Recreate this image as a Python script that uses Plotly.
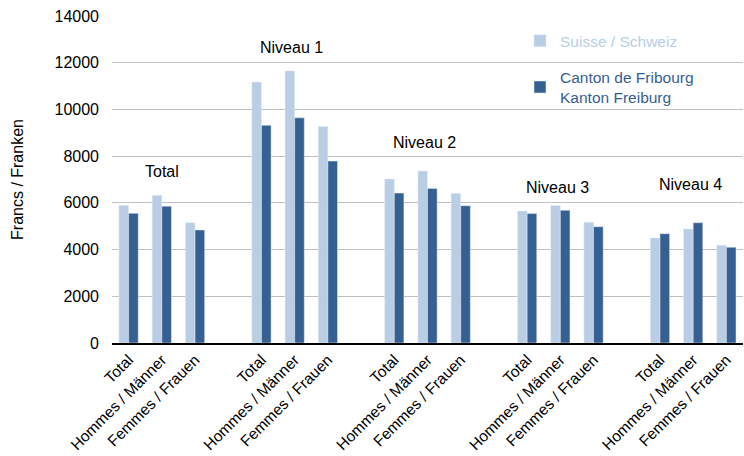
import plotly.graph_objects as go

# Data
tick_labels = ["Total", "Hommes / Männer", "Femmes / Frauen", "",
               "Total", "Hommes / Männer", "Femmes / Frauen", "",
               "Total", "Hommes / Männer", "Femmes / Frauen", "",
               "Total", "Hommes / Männer", "Femmes / Frauen", "",
               "Total", "Hommes / Männer", "Femmes / Frauen"]
group_labels = ["Total", "Niveau 1", "Niveau 2", "Niveau 3", "Niveau 4"]
group_label_y = [7350, 12650, 8600, 6650, 6780]

suisse = [5900, 6330, 5150, None,
          11170, 11650, 9270, None,
          7020, 7360, 6410, None,
          5650, 5890, 5170, None,
          4500, 4880, 4190]
fribourg = [5550, 5860, 4840, None,
            9320, 9640, 7790, None,
            6420, 6620, 5880, None,
            5540, 5680, 4980, None,
            4680, 5150, 4100]

light = "#B9CDE5"
dark = "#366092"
font = "Liberation Sans, Arial, sans-serif"

x = list(range(len(tick_labels)))

fig = go.Figure()
fig.add_trace(go.Bar(x=x, y=suisse, name=f'<span style="color:{light}">Suisse / Schweiz</span>',
                     marker=dict(color=light), legendgroup="a"))
fig.add_trace(go.Bar(x=x, y=fribourg,
                     name=f'<span style="color:{dark}">Canton de Fribourg<br>Kanton Freiburg</span>',
                     marker=dict(color=dark), legendgroup="b"))

for i, (lab, yv) in enumerate(zip(group_labels, group_label_y)):
    fig.add_annotation(x=1 + 4 * i, y=yv, text=lab, showarrow=False,
                       xshift=-3 if i > 0 else 0,
                       font=dict(family=font, size=16, color="#000000"))

fig.update_layout(
    width=744, height=456,
    margin=dict(l=112, r=1, t=16, b=113),
    paper_bgcolor="white", plot_bgcolor="white",
    barmode="group", bargap=0.42, bargroupgap=0,
    font=dict(family=font, size=16, color="#000000"),
    legend=dict(x=0.6466, y=0.975, xanchor="left", yanchor="top",
                bgcolor="rgba(0,0,0,0)", tracegroupgap=13,
                font=dict(family=font, size=15.5), itemwidth=30),
    xaxis=dict(tickmode="array", tickvals=x, ticktext=tick_labels,
               range=[-0.5, len(x) - 0.5], tickangle=-45,
               showline=True, linecolor="#000000", linewidth=1.5,
               ticks="", showgrid=False, tickfont=dict(size=15.5)),
    yaxis=dict(range=[0, 14000], dtick=2000, tickformat="d", showgrid=True,
               gridcolor="#BFBFBF", gridwidth=1, zeroline=False,
               ticks="", tickfont=dict(size=16), ticklabelstandoff=12,
               title=dict(text="Francs / Franken", font=dict(size=16), standoff=26)),
)

fig.write_html("out.html")
